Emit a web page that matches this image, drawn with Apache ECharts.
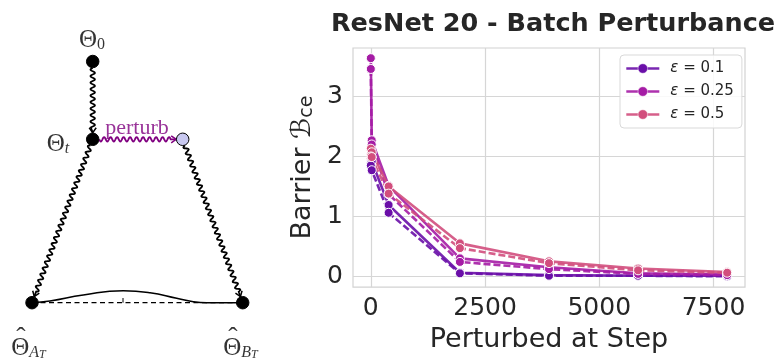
<!DOCTYPE html>
<html>
<head>
<meta charset="utf-8">
<script src="https://cdn.jsdelivr.net/npm/echarts@6/dist/echarts.min.js"></script>
<style>
  html, body { margin: 0; padding: 0; background: #fff; }
  #chart { width: 777px; height: 358px; }
</style>
</head>
<body>
<div id="chart"></div>
<script>
// ---- plot data ----
const steps = [0, 20, 390, 1950, 3900, 5850, 7800]
const eps01Solid = [1.97, 1.92, 1.19, 0.06, 0.02, 0.01, 0.01]
const eps01Dashed = [1.85, 1.77, 1.06, 0.05, 0.01, 0.01, 0.0]
const eps025Solid = [3.64, 2.27, 1.51, 0.30, 0.15, 0.05, 0.03]
const eps025Dashed = [3.46, 2.20, 1.37, 0.24, 0.12, 0.04, 0.02]
const eps05Solid = [2.13, 2.07, 1.50, 0.55, 0.25, 0.13, 0.07]
const eps05Dashed = [2.00, 1.99, 1.38, 0.47, 0.22, 0.10, 0.06]
const xTicks = [0, 2500, 5000, 7500]
const yTicks = [0, 1, 2, 3]
const legendNames = ['ε = 0.1', 'ε = 0.25', 'ε = 0.5']
const colors = ['#6a0fa8', '#a51ca5', '#d24e7d']

// ---- diagram data ----
const nodeX = [92.7, 92.7, 182.7, 32, 242.7]
const nodeY = [61.5, 139.3, 139.3, 302.7, 302.7]
const nodeFill = ['#000', '#000', '#c8c8f0', '#000', '#000']
const edgeFrom = [0, 1, 1, 2]
const edgeTo = [1, 2, 3, 4]
const edgeColor = ['#000', '#800080', '#000', '#000']
const barrierX = [32, 50, 83.3, 123.3, 150, 176.7, 193.3, 206.7, 242.7]
const barrierY = [302.7, 301, 295, 290.7, 292.7, 298.3, 301.7, 302.7, 302.7]
const midTickX = [123, 123]
const midTickY = [298, 302.7]
const labelTexts = ['{m|Θ}{s|0}', '{m|Θ}{i|t}', '{p|perturb}', '{m|Θ}{i|A}{t|T}', '{m|Θ}{i|B}{t|T}', '{h|ˆ}', '{h|ˆ}']
const labelX = [92, 58, 137, 28.5, 240.5, 21, 233]
const labelY = [37, 141, 128, 345, 345, 339, 339]

const chart = echarts.init(document.getElementById('chart'))

const lineSeries = [
  [legendNames[0], eps01Solid, colors[0], 'solid'],
  [legendNames[0], eps01Dashed, colors[0], [7, 3]],
  [legendNames[1], eps025Solid, colors[1], 'solid'],
  [legendNames[1], eps025Dashed, colors[1], [7, 3]],
  [legendNames[2], eps05Solid, colors[2], 'solid'],
  [legendNames[2], eps05Dashed, colors[2], [7, 3]],
].map(([name, vals, color, dash]) => ({
  name,
  type: 'line',
  xAxisIndex: 0,
  yAxisIndex: 0,
  data: steps.map((s, i) => [s, vals[i]]),
  symbol: 'circle',
  symbolSize: 9,
  showSymbol: true,
  color,
  itemStyle: { color, borderColor: '#fff', borderWidth: 1 },
  lineStyle: { color, width: 2.6, type: dash, opacity: 0.9 },
  emphasis: { disabled: true },
  z: 3,
}))

const renderWave = (params, api) => {
  const a = api.coord([api.value(0), api.value(1)])
  const b = api.coord([api.value(2), api.value(3)])
  const color = edgeColor[params.dataIndex]
  const dx = b[0] - a[0]
  const dy = b[1] - a[1]
  const len = Math.sqrt(dx * dx + dy * dy)
  const ux = dx / len, uy = dy / len, nx = -uy, ny = ux
  const s0 = 6.5, s1 = len - 6.5, waveEnd = s1 - 5
  const pts = []
  for (let s = s0; s <= waveEnd; s += 0.5) {
    const o = 2.2 * Math.sin((s - s0) / 6.5 * 2 * Math.PI)
    pts.push([a[0] + ux * s + nx * o, a[1] + uy * s + ny * o])
  }
  const tip = [a[0] + ux * s1, a[1] + uy * s1]
  pts.push(tip)
  const head = [
    [tip[0] - ux * 5 + nx * 3.5, tip[1] - uy * 5 + ny * 3.5],
    tip,
    [tip[0] - ux * 5 - nx * 3.5, tip[1] - uy * 5 - ny * 3.5],
  ]
  return {
    type: 'group',
    children: [
      { type: 'polyline', shape: { points: pts }, style: { stroke: color, lineWidth: 1.8, fill: null } },
      { type: 'polyline', shape: { points: head }, style: { stroke: color, lineWidth: 1.5, fill: null } },
    ],
  }
}

const serif = 'Liberation Serif'
const option = {
  animation: false,
  textStyle: { fontFamily: 'DejaVu Sans' },
  title: {
    text: 'ResNet 20 - Batch Perturbance',
    left: 548,
    top: 6,
    textAlign: 'center',
    textStyle: { fontSize: 25.5, fontWeight: 'bold', color: '#262626', fontFamily: 'DejaVu Sans' },
  },
  legend: {
    data: legendNames,
    orient: 'vertical',
    left: 620,
    top: 55,
    itemWidth: 33,
    itemHeight: 12,
    itemGap: 8,
    padding: [6, 8, 6, 5],
    backgroundColor: 'rgba(255,255,255,0.85)',
    borderColor: '#d9d9d9',
    borderWidth: 1,
    borderRadius: 4,
    lineStyle: { type: 'solid', width: 2.6 },
    itemStyle: { borderWidth: 0.5 },
    textStyle: {
      fontSize: 15,
      color: '#262626',
      rich: { e: { fontSize: 15, fontStyle: 'italic', color: '#262626', padding: [0, 0, 0, 6] } },
    },
    formatter: (n) => '{e|ε}' + n.slice(1),
  },
  grid: [
    { left: 353, top: 48, width: 392, height: 240, show: true, borderColor: '#d2d2d2', borderWidth: 1.2, backgroundColor: '#fff' },
    { left: 0, top: 0, width: 270, height: 358, show: false },
  ],
  xAxis: [
    {
      type: 'value',
      gridIndex: 0,
      min: -390,
      max: 8190,
      axisLine: { show: false },
      axisTick: { show: false, customValues: xTicks },
      axisLabel: { customValues: xTicks, fontSize: 25, color: '#262626', margin: 9, formatter: (v) => String(v) },
      splitLine: { show: true, lineStyle: { color: '#d6d6d6', width: 1.2 } },
      name: 'Perturbed at Step',
      nameLocation: 'middle',
      nameGap: 34,
      nameTextStyle: { fontSize: 27, color: '#262626' },
    },
    { type: 'value', gridIndex: 1, min: 0, max: 270, show: false },
  ],
  yAxis: [
    {
      type: 'value',
      gridIndex: 0,
      min: -0.18,
      max: 3.81,
      axisLine: { show: false },
      axisTick: { show: false, customValues: yTicks },
      axisLabel: { customValues: yTicks, fontSize: 25, color: '#262626', margin: 10 },
      splitLine: { show: true, lineStyle: { color: '#d6d6d6', width: 1.2 } },
      name: '{n|Barrier }{b|ℬ}{s|ce}',
      nameLocation: 'middle',
      nameGap: 32,
      nameRotate: 90,
      nameTextStyle: {
        color: '#262626',
        rich: {
          n: { fontSize: 27, color: '#262626', lineHeight: 34, verticalAlign: 'bottom' },
          b: { fontSize: 27, color: '#262626', fontStyle: 'italic', lineHeight: 34, verticalAlign: 'bottom' },
          s: { fontSize: 19, color: '#262626', lineHeight: 24, verticalAlign: 'bottom' },
        },
      },
    },
    { type: 'value', gridIndex: 1, min: 0, max: 358, inverse: true, show: false },
  ],
  series: [
    ...lineSeries,
    {
      type: 'line',
      xAxisIndex: 1,
      yAxisIndex: 1,
      data: [[nodeX[3], nodeY[3]], [nodeX[4], nodeY[4]]],
      showSymbol: false,
      lineStyle: { color: '#000', width: 1.3, type: [5, 3.5] },
      silent: true,
    },
    {
      type: 'line',
      xAxisIndex: 1,
      yAxisIndex: 1,
      data: barrierX.map((x, i) => [x, barrierY[i]]),
      showSymbol: false,
      smooth: 0.5,
      lineStyle: { color: '#000', width: 1.6 },
      silent: true,
    },
    {
      type: 'line',
      xAxisIndex: 1,
      yAxisIndex: 1,
      data: midTickX.map((x, i) => [x, midTickY[i]]),
      showSymbol: false,
      lineStyle: { color: '#000', width: 1 },
      silent: true,
    },
    {
      type: 'custom',
      xAxisIndex: 1,
      yAxisIndex: 1,
      renderItem: renderWave,
      encode: { x: [0, 2], y: [1, 3] },
      data: edgeFrom.map((f, i) => [nodeX[f], nodeY[f], nodeX[edgeTo[i]], nodeY[edgeTo[i]]]),
      silent: true,
      z: 4,
    },
    {
      type: 'scatter',
      xAxisIndex: 1,
      yAxisIndex: 1,
      symbolSize: 12.5,
      data: nodeX.map((x, i) => ({
        value: [x, nodeY[i]],
        itemStyle: { color: nodeFill[i], borderColor: '#000', borderWidth: 1, opacity: 1 },
      })),
      silent: true,
      z: 5,
    },
    {
      type: 'scatter',
      xAxisIndex: 1,
      yAxisIndex: 1,
      symbolSize: 0,
      itemStyle: { color: 'rgba(0,0,0,0)' },
      data: labelX.map((x, i) => [x, labelY[i]]),
      label: {
        show: true,
        position: 'inside',
        formatter: (p) => labelTexts[p.dataIndex],
        rich: {
          m: { fontFamily: serif, fontSize: 25, color: '#000', lineHeight: 32, verticalAlign: 'bottom' },
          s: { fontFamily: serif, fontSize: 16, color: '#000', lineHeight: 17, verticalAlign: 'bottom' },
          i: { fontFamily: serif, fontSize: 16, fontStyle: 'italic', color: '#000', lineHeight: 17, verticalAlign: 'bottom' },
          t: { fontFamily: serif, fontSize: 12, fontStyle: 'italic', color: '#000', lineHeight: 10, verticalAlign: 'bottom' },
          p: { fontFamily: serif, fontSize: 22, color: '#800080' },
          h: { fontFamily: serif, fontSize: 28, color: '#000' },
        },
      },
      silent: true,
      z: 6,
    },
  ],
}

chart.setOption(option)
</script>
</body>
</html>
